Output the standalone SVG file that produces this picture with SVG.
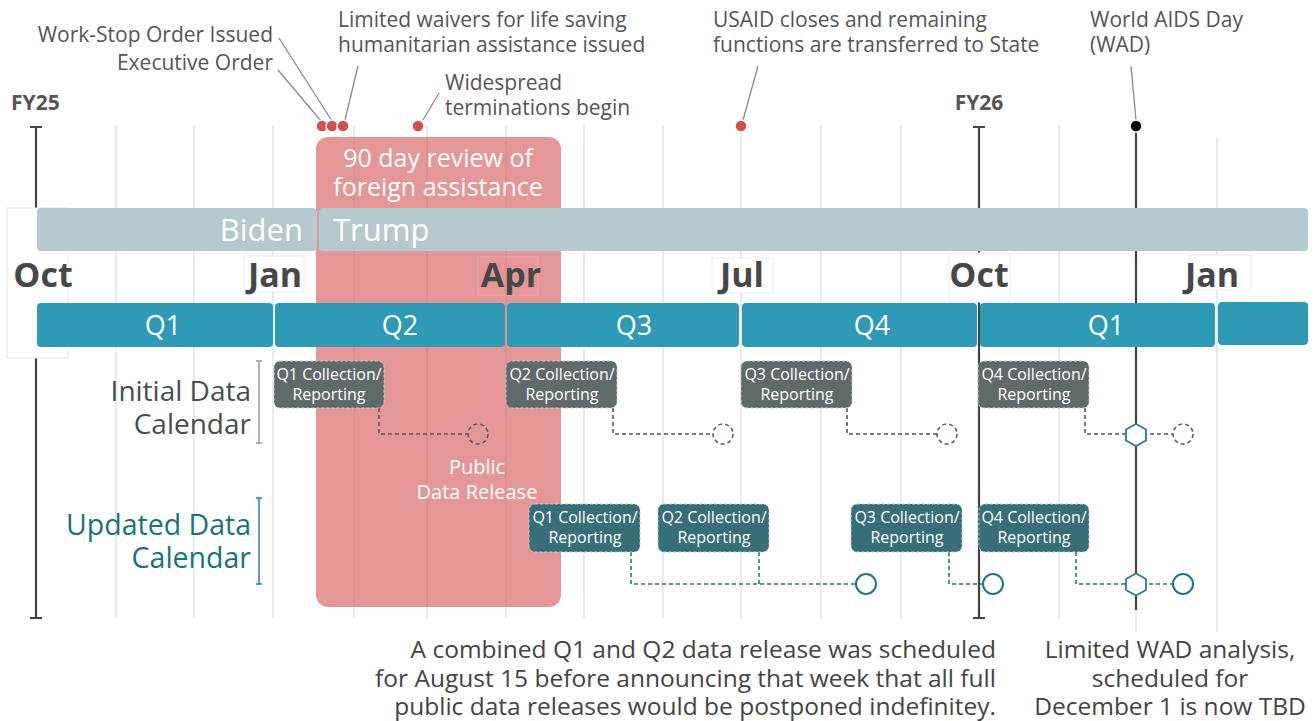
<svg xmlns="http://www.w3.org/2000/svg" width="1316" height="721" viewBox="0 0 1316 721">
<style>
text{font-family:"Open Sans","Noto Sans","Liberation Sans",sans-serif}
.ann{font-size:21px;fill:#555}
.fy{font-size:21px;font-weight:bold;fill:#555}
.mon{font-size:34px;font-weight:bold;fill:#474747;text-anchor:middle}
.grid{stroke:#e3e3e3;stroke-width:1.5}
.axis{stroke:#444;stroke-width:2.2;fill:none}
.lead{stroke:#8a8a8a;stroke-width:1.3;fill:none}
.dot{fill:#d4504f;stroke:#fff;stroke-width:1.5}
.wq{fill:#fff;font-size:27px;text-anchor:middle}
.rv{fill:#fff;font-size:25px;text-anchor:middle}
.pub{fill:#fff;font-size:20px;text-anchor:middle}
.qbar{fill:#2e9ab5}
.gbar{fill:#b6c9ce}
.gbox{fill:#5f6a6b;stroke:#c8cdcd;stroke-width:1;stroke-dasharray:3 2}
.tbox{fill:#386d7a;stroke:#b9d0d5;stroke-width:1;stroke-dasharray:3 2}
.bt{fill:#fff;font-size:16px;text-anchor:middle}
.gcon{stroke:#555;stroke-width:1.6;fill:none;stroke-dasharray:4 3}
.tcon{stroke:#1d7a7e;stroke-width:1.6;fill:none;stroke-dasharray:4 3}
.dcirc{fill:none;stroke:#4e6068;stroke-width:1.6;stroke-dasharray:4 3}
.tcirc{fill:#fff;stroke:#1d7a7e;stroke-width:2}
.hex{fill:#fff;stroke:#2e7a88;stroke-width:1.8}
.note{font-size:24.5px;fill:#444}
.lbox{fill:#fff;stroke:#ececec;stroke-width:1}
</style>

<g id="grid">
<line class="grid" x1="116" y1="125" x2="116" y2="618"/>
<line class="grid" x1="194" y1="125" x2="194" y2="618"/>
<line class="grid" x1="273" y1="125" x2="273" y2="618"/>
<line class="grid" x1="354" y1="125" x2="354" y2="618"/>
<line class="grid" x1="427" y1="125" x2="427" y2="618"/>
<line class="grid" x1="506" y1="125" x2="506" y2="618"/>
<line class="grid" x1="584" y1="125" x2="584" y2="618"/>
<line class="grid" x1="663" y1="125" x2="663" y2="618"/>
<line class="grid" x1="741" y1="125" x2="741" y2="618"/>
<line class="grid" x1="821" y1="125" x2="821" y2="618"/>
<line class="grid" x1="901" y1="125" x2="901" y2="618"/>
<line class="grid" x1="1059" y1="125" x2="1059" y2="618"/>
<line class="grid" x1="1136" y1="125" x2="1136" y2="632"/>
<line class="grid" x1="1217" y1="138" x2="1217" y2="632"/>
</g>

<g id="axes">
<path class="axis" d="M36 127 V618 M30 127 H42 M30 618 H42"/>
<path class="axis" d="M979 127 V618 M973 127 H985 M973 618 H985"/>
<path class="axis" d="M1136 126 V610"/>
</g>

<g id="review-period">
<rect x="316" y="137" width="245" height="470" rx="12" fill="#d65f5d" fill-opacity="0.65"/>
<text class="rv" x="438" y="167">90 day review of</text>
<text class="rv" x="438" y="196">foreign assistance</text>
<text class="pub" x="477" y="474">Public</text>
<text class="pub" x="477" y="499">Data Release</text>
</g>

<g id="left-box">
<rect x="7" y="208" width="61" height="150" fill="#fff" stroke="#e3e3e3" stroke-width="1"/>
</g>

<g id="administration">
<rect class="gbar" x="37" y="208" width="280" height="43" rx="4"/>
<rect class="gbar" x="319" y="208" width="989" height="43" rx="4"/>
<text x="303" y="241" fill="#fff" font-size="31" text-anchor="end">Biden</text>
<text x="333" y="241" fill="#fff" font-size="31">Trump</text>
</g>

<g id="months">
<rect class="lbox" x="244" y="256" width="60" height="36"/>
<rect class="lbox" x="712" y="258" width="61" height="35"/>
<rect class="lbox" x="949" y="253" width="61" height="49"/>
<rect class="lbox" x="1189" y="255" width="62" height="35"/>
<rect x="478" y="257" width="60" height="38" fill="none" stroke="#e8a8a8" stroke-width="1"/>
<text class="mon" x="43" y="287">Oct</text>
<text class="mon" x="275" y="287">Jan</text>
<text class="mon" x="511" y="287">Apr</text>
<text class="mon" x="742" y="287">Jul</text>
<text class="mon" x="979" y="287">Oct</text>
<text class="mon" x="1212" y="287">Jan</text>
</g>

<g id="quarters">
<rect class="qbar" x="37" y="303" width="236" height="44" rx="4"/>
<rect class="qbar" x="275" y="303" width="230" height="44" rx="4"/>
<rect class="qbar" x="507" y="303" width="232" height="44" rx="4"/>
<rect class="qbar" x="742" y="303" width="235" height="44" rx="4"/>
<rect class="qbar" x="980" y="303" width="235" height="44" rx="4"/>
<rect class="qbar" x="1218" y="302" width="90" height="43" rx="4"/>
<text class="wq" x="163" y="335">Q1</text>
<text class="wq" x="400" y="335">Q2</text>
<text class="wq" x="634" y="335">Q3</text>
<text class="wq" x="872" y="335">Q4</text>
<text class="wq" x="1106" y="335">Q1</text>
</g>

<g id="fy-labels">
<text class="fy" x="11" y="110">FY25</text>
<text class="fy" x="979" y="110" text-anchor="middle">FY26</text>
</g>

<g id="connectors">
<line class="lead" x1="278" y1="70" x2="321" y2="121"/>
<line class="lead" x1="279" y1="38" x2="332" y2="121"/>
<line class="lead" x1="358" y1="66" x2="345" y2="120"/>
<line class="lead" x1="439" y1="93" x2="423" y2="120"/>
<line class="lead" x1="758" y1="66" x2="743" y2="120"/>
<line class="lead" x1="1131" y1="66" x2="1136" y2="120"/>
<path class="gcon" d="M379 408 V434 H468"/>
<path class="gcon" d="M613 408 V434 H713"/>
<path class="gcon" d="M847 408 V434 H937"/>
<path class="gcon" d="M1085 408 V434 H1173"/>
<path class="tcon" d="M631 552 V584 H856"/>
<path class="tcon" d="M759 552 V584"/>
<path class="tcon" d="M949 552 V584 H983"/>
<path class="tcon" d="M1076 552 V584 H1173"/>
</g>

<g id="events">
<circle class="dot" cx="322" cy="126" r="6"/>
<circle class="dot" cx="332" cy="126" r="6"/>
<circle class="dot" cx="343" cy="126" r="6"/>
<circle class="dot" cx="418" cy="126" r="6"/>
<circle class="dot" cx="741" cy="126" r="6"/>
<circle cx="1136" cy="126" r="6" fill="#000" stroke="#fff" stroke-width="1.5"/>
<text class="ann" x="273" y="42" text-anchor="end">Work-Stop Order Issued</text>
<text class="ann" x="273" y="70" text-anchor="end">Executive Order</text>
<text class="ann" x="338" y="27">Limited waivers for life saving</text>
<text class="ann" x="338" y="52">humanitarian assistance issued</text>
<text class="ann" x="445" y="90">Widespread</text>
<text class="ann" x="445" y="115">terminations begin</text>
<text class="ann" x="713" y="27">USAID closes and remaining</text>
<text class="ann" x="713" y="52">functions are transferred to State</text>
<text class="ann" x="1090" y="27">World AIDS Day</text>
<text class="ann" x="1090" y="52">(WAD)</text>
</g>

<g id="row-labels">
<text x="251" y="401" font-size="28" fill="#444f52" text-anchor="end">Initial Data</text>
<text x="251" y="434" font-size="28" fill="#444f52" text-anchor="end">Calendar</text>
<path d="M259 361 V443 M256 361 H262 M256 443 H262" stroke="#999" stroke-width="1.5" fill="none"/>
<text x="251" y="535" font-size="28.5" fill="#1a7377" text-anchor="end">Updated Data</text>
<text x="251" y="568" font-size="28.5" fill="#1a7377" text-anchor="end">Calendar</text>
<path d="M259 498 V584 M256 498 H262 M256 584 H262" stroke="#2a8a8c" stroke-width="1.5" fill="none"/>
</g>

<g id="initial-q1"><rect class="gbox" x="274" y="361" width="110" height="47" rx="6"/><text class="bt" x="329" y="380">Q1 Collection/</text><text class="bt" x="329" y="400">Reporting</text></g>
<g id="initial-q2"><rect class="gbox" x="506" y="361" width="111" height="47" rx="6"/><text class="bt" x="562" y="380">Q2 Collection/</text><text class="bt" x="562" y="400">Reporting</text></g>
<g id="initial-q3"><rect class="gbox" x="741" y="361" width="111" height="47" rx="6"/><text class="bt" x="797" y="380">Q3 Collection/</text><text class="bt" x="797" y="400">Reporting</text></g>
<g id="initial-q4"><rect class="gbox" x="978" y="361" width="111" height="47" rx="6"/><text class="bt" x="1034" y="380">Q4 Collection/</text><text class="bt" x="1034" y="400">Reporting</text></g>

<g id="updated-q1"><rect class="tbox" x="529" y="504" width="111" height="48" rx="6"/><text class="bt" x="585" y="523">Q1 Collection/</text><text class="bt" x="585" y="543">Reporting</text></g>
<g id="updated-q2"><rect class="tbox" x="658" y="504" width="111" height="48" rx="6"/><text class="bt" x="714" y="523">Q2 Collection/</text><text class="bt" x="714" y="543">Reporting</text></g>
<g id="updated-q3"><rect class="tbox" x="851" y="504" width="111" height="48" rx="6"/><text class="bt" x="907" y="523">Q3 Collection/</text><text class="bt" x="907" y="543">Reporting</text></g>
<g id="updated-q4"><rect class="tbox" x="979" y="504" width="110" height="48" rx="6"/><text class="bt" x="1034" y="523">Q4 Collection/</text><text class="bt" x="1034" y="543">Reporting</text></g>

<g id="release-markers">
<circle class="dcirc" cx="478" cy="434" r="10"/>
<circle class="dcirc" cx="723" cy="434" r="10"/>
<circle class="dcirc" cx="947" cy="434" r="10"/>
<circle class="dcirc" cx="1183" cy="434" r="10"/>
<polygon class="hex" points="1136,424 1146,429.5 1146,440.5 1136,446 1126,440.5 1126,429.5"/>
<circle class="tcirc" cx="866" cy="584" r="10"/>
<circle class="tcirc" cx="993" cy="584" r="10"/>
<circle class="tcirc" cx="1183" cy="584" r="10"/>
<polygon class="hex" points="1136,573.5 1146,579 1146,590 1136,595.5 1126,590 1126,579"/>
</g>

<g id="notes">
<text class="note" x="996" y="658" text-anchor="end">A combined Q1 and Q2 data release was scheduled</text>
<text class="note" x="996" y="687" text-anchor="end">for August 15 before announcing that week that all full</text>
<text class="note" x="996" y="715" text-anchor="end">public data releases would be postponed indefinitey.</text>
<text class="note" x="1170" y="658" text-anchor="middle">Limited WAD analysis,</text>
<text class="note" x="1170" y="687" text-anchor="middle">scheduled for</text>
<text class="note" x="1170" y="715" text-anchor="middle">December 1 is now TBD</text>
</g>
</svg>
